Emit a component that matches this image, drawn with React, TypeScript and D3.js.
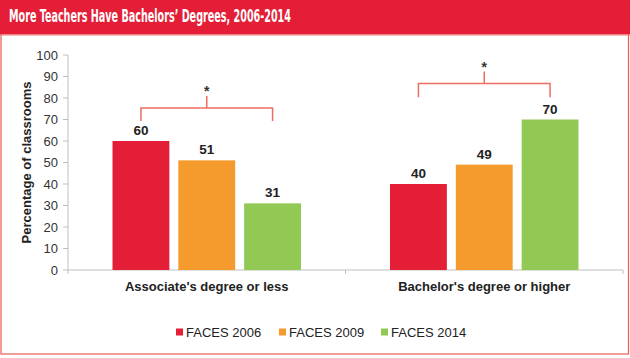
import React from "react";
import * as d3 from "d3";

const categories = ["Associate's degree or less", "Bachelor's degree or higher"];
const seriesNames = ["FACES 2006", "FACES 2009", "FACES 2014"];
const faces2006 = [60, 40];
const faces2009 = [51, 49];
const faces2014 = [31, 70];
const seriesValues = [faces2006, faces2009, faces2014];
const yTicks = [0, 10, 20, 30, 40, 50, 60, 70, 80, 90, 100];
const bracketTop = [75.3, 86.7];
const bracketEnd = [69.3, 80.3];
const title = "More Teachers Have Bachelors\u2019 Degrees, 2006-2014";
const yTitle = "Percentage of classrooms";

const colors = ["#E31E36", "#F59A2C", "#92C955"];
const W = 630, H = 358;
const FONT = "Arial, 'Liberation Sans', sans-serif";

export default function App() {
  const left = 68, right = 623, top = 55, bottom = 270;
  const y = d3.scaleLinear().domain([0, 100]).range([bottom, top]);
  const x0 = d3.scaleBand().domain(categories).range([left, right]).padding(0);
  const bw = x0.bandwidth();
  const x1 = d3.scaleBand().domain(seriesNames).range([44.5, bw - 44.5]).paddingInner(0.136).paddingOuter(0);

  return (
    <svg width={W} height={H} style={{ position: "absolute", left: 0, top: 0 }} fontFamily={FONT}>
      <rect x={0} y={0} width={W} height={H} fill="#fff" />
      <rect x={1} y={0} width={627.5} height={354} fill="none" stroke="#EC5A55" strokeWidth={1.2} />
      <rect x={0} y={0} width={W} height={34.5} fill="#E31E36" />
      <line x1={0} x2={W} y1={35} y2={35} stroke="#F07A72" strokeWidth={1} />
      <text x={9} y={21.5} fill="#fff" fontSize={17} fontWeight="bold"
        fontFamily="'Liberation Sans Narrow', 'DejaVu Sans Condensed', Arial, sans-serif"
        textLength={282} lengthAdjust="spacingAndGlyphs">{title}</text>

      {/* y axis */}
      <line x1={left} x2={left} y1={top} y2={bottom} stroke="#BFBFBF" />
      {yTicks.map((t) => (
        <g key={t}>
          <line x1={left - 5} x2={left} y1={y(t)} y2={y(t)} stroke="#BFBFBF" />
          <text x={58} y={y(t)} dy="0.35em" textAnchor="end" fontSize={13} fill="#333">{t}</text>
        </g>
      ))}
      <text transform={`translate(31,162.5) rotate(-90)`} textAnchor="middle" fontSize={13} fontWeight="bold" fill="#222">{yTitle}</text>

      {/* x axis */}
      <line x1={left} x2={right} y1={bottom} y2={bottom} stroke="#BFBFBF" />
      {[left, left + bw, right].map((xx, i) => (
        <line key={i} x1={xx} x2={xx} y1={bottom} y2={bottom + 4} stroke="#BFBFBF" />
      ))}

      {categories.map((c, ci) => {
        const gx = x0(c)!;
        const vals = seriesValues.map((s) => s[ci]);
        const cx = (si: number) => gx + x1(seriesNames[si])! + x1.bandwidth() / 2;
        const mid = (cx(0) + cx(2)) / 2;
        return (
          <g key={c}>
            {seriesNames.map((s, si) => (
              <g key={s}>
                <rect x={gx + x1(s)!} y={y(vals[si])} width={x1.bandwidth()} height={bottom - y(vals[si])} fill={colors[si]} />
                <text x={cx(si)} y={y(vals[si]) - 6} textAnchor="middle" fontSize={13.5} fontWeight="bold" fill="#222">{vals[si]}</text>
              </g>
            ))}
            <path d={`M${cx(0)},${y(bracketEnd[ci])}V${y(bracketTop[ci])}H${cx(2)}V${y(bracketEnd[ci])}M${mid},${y(bracketTop[ci])}V${y(bracketTop[ci]) - 12}`}
              fill="none" stroke="#EE6E62" strokeWidth={1.5} />
            <text x={mid} y={y(bracketTop[ci]) - 12} textAnchor="middle" fontSize={14} fontWeight="bold" fill="#333">*</text>
            <text x={gx + bw / 2} y={291} textAnchor="middle" fontSize={13} fontWeight="bold" fill="#222">{c}</text>
          </g>
        );
      })}

      {/* legend */}
      {seriesNames.map((s, si) => {
        const lx = [176, 279, 381][si];
        return (
          <g key={s}>
            <rect x={lx} y={328.5} width={7} height={7} fill={colors[si]} />
            <text x={lx + 10} y={332} dy="0.35em" fontSize={13} fill="#222">{s}</text>
          </g>
        );
      })}
    </svg>
  );
}
